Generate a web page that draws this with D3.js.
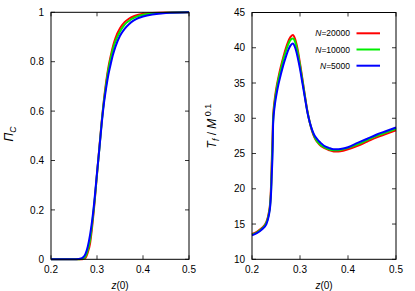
<!DOCTYPE html>
<html><head><meta charset="utf-8">
<script src="https://cdn.jsdelivr.net/npm/d3@7"></script>
<style>body{margin:0;background:#fff}svg{display:block}text{font-family:"Liberation Sans",Arial,sans-serif;fill:#000}</style>
</head><body>
<script>
// ---------- data ----------
const seriesNames = ["N=20000", "N=10000", "N=5000"];
const seriesColors = ["#ff0000", "#00ee00", "#0000ff"];

const zLeft = [0.2,0.25,0.26,0.265,0.27,0.275,0.28,0.285,0.29,0.295,0.30,0.305,0.31,0.315,0.32,0.325,0.33,0.335,0.34,0.35,0.36,0.37,0.38,0.39,0.40,0.42,0.45,0.5];
const piRed   = [0,0,0,0,0.001,0.006,0.028,0.065,0.14,0.235,0.345,0.45,0.555,0.645,0.72,0.78,0.825,0.865,0.895,0.935,0.96,0.975,0.984,0.99,0.994,0.997,0.999,1.0];
const piGreen = [0,0,0,0.001,0.003,0.012,0.038,0.08,0.152,0.242,0.345,0.445,0.55,0.64,0.71,0.77,0.815,0.853,0.882,0.922,0.95,0.966,0.977,0.985,0.99,0.995,0.998,1.0];
const piBlue  = [0,0,0.001,0.003,0.008,0.022,0.052,0.1,0.165,0.25,0.35,0.445,0.545,0.63,0.695,0.75,0.792,0.83,0.86,0.905,0.933,0.953,0.967,0.977,0.983,0.991,0.997,1.0];

const zRight = [0.2,0.21,0.22,0.23,0.235,0.238,0.24,0.241,0.243,0.244,0.247,0.25,0.255,0.26,0.265,0.27,0.275,0.28,0.285,0.29,0.295,0.30,0.305,0.31,0.315,0.32,0.325,0.33,0.335,0.34,0.345,0.35,0.36,0.37,0.38,0.39,0.40,0.42,0.44,0.46,0.48,0.5];
const tRed   = [13.6,13.9,14.4,15.3,16.6,18.2,21.0,23.5,27.8,30.2,32.5,34.0,35.8,37.3,38.6,39.8,40.8,41.5,41.8,41.2,39.8,37.8,35.6,33.3,31.2,29.5,28.2,27.3,26.7,26.3,26.0,25.8,25.5,25.3,25.3,25.4,25.6,26.1,26.7,27.3,27.8,28.3];
const tGreen = [13.5,13.8,14.3,15.2,16.4,17.9,20.3,22.6,26.8,29.7,32.1,33.6,35.5,36.9,38.3,39.4,40.4,41.1,41.3,40.8,39.4,37.5,35.4,33.2,31.1,29.5,28.3,27.4,26.8,26.4,26.1,25.9,25.6,25.45,25.45,25.6,25.8,26.3,26.9,27.5,28.0,28.5];
const tBlue  = [13.4,13.7,14.2,15.0,16.2,17.6,19.8,21.7,25.5,29.2,31.6,33.0,34.8,36.2,37.5,38.6,39.6,40.3,40.6,40.0,38.7,37.0,35.0,33.0,31.0,29.5,28.4,27.6,27.1,26.7,26.4,26.1,25.8,25.6,25.6,25.7,25.9,26.5,27.1,27.7,28.2,28.7];

const xTicks = [0.2, 0.3, 0.4, 0.5];
const yTicksLeft = [0, 0.2, 0.4, 0.6, 0.8, 1];
const yTicksRight = [10, 15, 20, 25, 30, 35, 40, 45];

// ---------- drawing ----------
const W = 415, H = 291;
const svg = d3.select("body").append("svg").attr("width", W).attr("height", H);

function panel(opts) {
  const x = d3.scaleLinear().domain([0.2, 0.5]).range([opts.x0, opts.x1]);
  const y = d3.scaleLinear().domain(opts.ydom).range([opts.y1, opts.y0]);
  const g = svg.append("g");
  const tl = 4;
  // ticks (inward, mirrored)
  xTicks.forEach(t => {
    g.append("line").attr("x1", x(t)).attr("x2", x(t)).attr("y1", opts.y1).attr("y2", opts.y1 - tl).attr("stroke", "#000").attr("stroke-width", 0.8);
    g.append("line").attr("x1", x(t)).attr("x2", x(t)).attr("y1", opts.y0).attr("y2", opts.y0 + tl).attr("stroke", "#000").attr("stroke-width", 0.8);
    g.append("text").attr("x", x(t)).attr("y", opts.y1 + 14).attr("text-anchor", "middle").attr("font-size", 10).text(d3.format(".1f")(t));
  });
  opts.yticks.forEach(t => {
    g.append("line").attr("x1", opts.x0).attr("x2", opts.x0 + tl).attr("y1", y(t)).attr("y2", y(t)).attr("stroke", "#000").attr("stroke-width", 0.8);
    g.append("line").attr("x1", opts.x1).attr("x2", opts.x1 - tl).attr("y1", y(t)).attr("y2", y(t)).attr("stroke", "#000").attr("stroke-width", 0.8);
    g.append("text").attr("x", opts.x0 - 7).attr("y", y(t) + 3.6).attr("text-anchor", "end").attr("font-size", 10).text(opts.fmt(t));
  });
  const line = d3.line().x(d => x(d[0])).y(d => y(d[1])).curve(d3.curveMonotoneX);
  opts.series.forEach((s, i) => {
    g.append("path").attr("d", line(opts.z.map((z, k) => [z, s[k]])))
      .attr("fill", "none").attr("stroke", seriesColors[i]).attr("stroke-width", 2);
  });
  g.append("rect").attr("x", opts.x0).attr("y", opts.y0).attr("width", opts.x1 - opts.x0).attr("height", opts.y1 - opts.y0)
    .attr("fill", "none").attr("stroke", "#000").attr("stroke-width", 1);
  // x label
  const xl = g.append("text").attr("x", (opts.x0 + opts.x1) / 2).attr("y", 289).attr("text-anchor", "middle").attr("font-size", 10);
  xl.append("tspan").attr("font-style", "italic").text("z");
  xl.append("tspan").text("(0)");
  return {x, y, g};
}

const L = panel({x0: 51, x1: 189, y0: 12.3, y1: 259.3, ydom: [0, 1], yticks: yTicksLeft,
  fmt: d => d === 0 ? "0" : d === 1 ? "1" : d3.format(".1f")(d), z: zLeft, series: [piRed, piGreen, piBlue]});
const R = panel({x0: 252, x1: 396, y0: 12.5, y1: 259.3, ydom: [10, 45], yticks: yTicksRight,
  fmt: d => String(d), z: zRight, series: [tRed, tGreen, tBlue]});

// y labels
const yl1 = svg.append("text").attr("transform", "translate(12.5,134) rotate(-90)").attr("text-anchor", "middle").attr("font-size", 12);
yl1.append("tspan").attr("font-style", "italic").text("Π");
yl1.append("tspan").attr("font-style", "italic").attr("font-size", 8.5).attr("dy", 3).text("C");

const yl2 = svg.append("text").attr("transform", "translate(216,126) rotate(-90)").attr("text-anchor", "middle").attr("font-size", 12);
yl2.append("tspan").attr("font-style", "italic").text("T");
yl2.append("tspan").attr("font-style", "italic").attr("font-size", 8.5).attr("dy", 3).text("f");
yl2.append("tspan").attr("dy", -3).text(" / ");
yl2.append("tspan").attr("font-style", "italic").text("M");
yl2.append("tspan").attr("font-size", 9).attr("dy", -5).text(" 0.1");

// legend
seriesNames.forEach((n, i) => {
  const yy = 33.3 + i * 16.2;
  const t = svg.append("text").attr("x", 350).attr("y", yy + 3).attr("text-anchor", "end").attr("font-size", 8.5);
  t.append("tspan").attr("font-style", "italic").text("N");
  t.append("tspan").text(n.slice(1));
  svg.append("line").attr("x1", 356.5).attr("x2", 380).attr("y1", yy).attr("y2", yy).attr("stroke", seriesColors[i]).attr("stroke-width", 2);
});
</script>
</body></html>
